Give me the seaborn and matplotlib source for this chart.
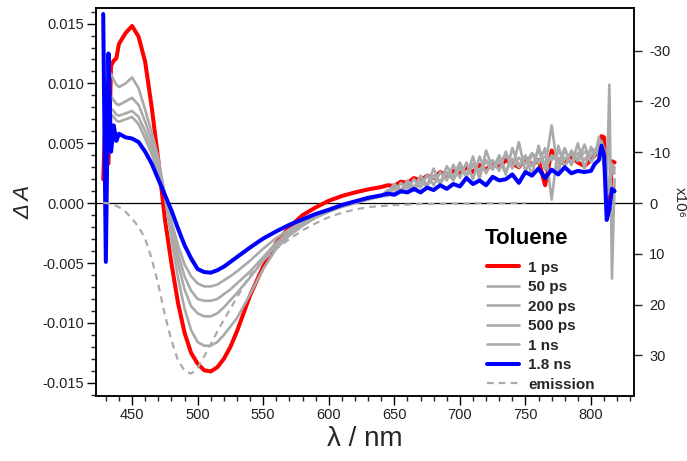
import numpy as np
import pandas as pd
import matplotlib
matplotlib.use("Agg")
import matplotlib.pyplot as plt
import seaborn as sns
from matplotlib.ticker import MultipleLocator, FixedLocator
from matplotlib.lines import Line2D

sns.set_style("ticks")
plt.rcParams['font.family'] = ['Liberation Sans', 'DejaVu Sans']
plt.rcParams['axes.unicode_minus'] = False

# wavelength grid (nm)
wavelength = [428, 430, 432, 434, 436, 438, 440,
              445, 450, 455, 460, 465, 470, 475, 480, 485, 490, 495, 500, 505, 510, 515, 520, 525, 530,
              540, 550, 560, 570, 580, 590, 600, 610, 620, 630, 640,
              645, 650, 655, 660, 665, 670, 675, 680, 685, 690, 695, 700, 705, 710, 715, 720,
              725, 730, 735, 740, 745, 750, 755, 760, 765, 770, 775, 780, 785, 790, 795, 800,
              803, 806, 808, 810, 812, 814, 816, 818]

# transient absorption, in units of 1e-3 (mOD)
ps1 = [2.0, 8.0, 3.3, 11.5, 11.9, 12.1, 13.3,
       14.2, 14.8, 13.9, 11.8, 8.0, 3.6, -1.3, -5.0, -8.3, -10.8, -12.5, -13.4, -13.95, -14.05, -13.7, -13.0, -12.0, -10.7,
       -7.7, -5.3, -3.3, -2.0, -1.0, -0.35, 0.2, 0.6, 0.9, 1.15, 1.35,
       1.5, 1.45, 1.8, 1.7, 2.1, 1.9, 2.3, 2.1, 2.6, 2.3, 2.7, 2.5, 3.0, 2.6, 3.2, 2.8,
       3.3, 3.0, 3.6, 3.3, 3.0, 3.8, 3.2, 3.6, 1.5, 4.4, 3.5, 3.3, 3.9, 3.4, 3.1, 3.6,
       4.0, 4.8, 5.6, 5.5, 1.0, -0.5, 3.5, 3.4]
ps50 = [14.0, 4.0, 10.9, 10.8, 10.3, 9.9, 9.7,
        10.0, 10.5, 9.6, 7.8, 5.9, 3.8, 0.6, -3.0, -6.2, -8.8, -10.6, -11.6, -11.9, -11.9, -11.6, -11.0, -10.3, -9.6,
        -7.6, -5.5, -3.8, -2.7, -1.9, -1.2, -0.7, -0.3, 0.0, 0.3, 0.6,
        0.9, 1.2, 1.0, 1.6, 1.3, 1.9, 1.5, 2.2, 1.8, 2.6, 2.1, 2.9, 2.4, 3.3, 2.7, 3.6,
        2.9, 3.4, 4.0, 3.1, 3.8, 3.3, 4.2, 3.5, 3.9, 3.6, 4.4, 3.7, 4.1, 3.5, 4.3, 3.9,
        4.5, 4.0, 5.0, 4.6, 0.5, 2.0, 3.2, 3.0]
ps200 = [12.0, 5.0, 9.2, 8.9, 8.6, 8.3, 8.2,
         8.5, 8.8, 8.2, 6.8, 5.2, 3.4, 0.8, -2.2, -5.0, -7.2, -8.6, -9.2, -9.45, -9.45, -9.2, -8.7, -8.1, -7.5,
         -6.2, -4.8, -3.5, -2.6, -1.8, -1.2, -0.7, -0.3, 0.05, 0.35, 0.6,
         0.6, 1.3, 0.9, 1.5, 1.0, 1.8, 1.4, 2.3, 1.6, 2.5, 1.9, 3.0, 2.2, 3.2, 2.4, 3.5,
         2.8, 4.0, 2.6, 3.7, 3.0, 3.9, 3.1, 4.5, 2.8, 4.0, 3.4, 4.6, 3.2, 4.2, 3.6, 4.4,
         4.2, 4.6, 5.2, 4.4, 1.5, 1.0, 3.0, 2.5]
ps500 = [11.0, 3.5, 8.2, 7.9, 7.7, 7.4, 7.3,
         7.5, 7.7, 7.2, 6.0, 4.6, 3.0, 0.8, -1.8, -4.2, -6.1, -7.3, -8.0, -8.15, -8.15, -8.0, -7.6, -7.2, -6.7,
         -5.7, -4.5, -3.3, -2.4, -1.7, -1.1, -0.65, -0.25, 0.05, 0.35, 0.6,
         1.1, 0.8, 1.7, 1.2, 2.0, 1.3, 2.4, 1.5, 2.6, 1.9, 3.2, 2.1, 3.4, 2.0, 3.9, 2.5,
         3.6, 2.7, 4.3, 2.9, 5.1, 2.6, 4.1, 3.3, 4.6, 0.3, 4.8, 3.0, 4.4, 3.6, 4.9, 3.4,
         4.0, 5.5, 4.8, 3.6, 2.0, 0.8, 3.3, 2.8]
ns1 = [10.5, 4.5, 7.6, 7.4, 7.2, 6.9, 6.8,
       7.0, 7.2, 6.6, 5.4, 4.1, 2.6, 0.7, -1.5, -3.5, -5.1, -6.1, -6.7, -6.95, -6.95, -6.8, -6.45, -6.1, -5.7,
       -4.8, -3.8, -2.9, -2.2, -1.55, -1.0, -0.6, -0.2, 0.1, 0.4, 0.65,
       0.9, 1.6, 1.1, 1.9, 1.3, 2.3, 1.5, 2.9, 1.6, 3.1, 2.2, 3.4, 2.3, 3.9, 2.0, 4.4,
       2.9, 3.8, 2.4, 4.6, 3.1, 4.0, 2.3, 4.8, 3.0, 6.5, 2.6, 4.5, 3.2, 5.0, 2.9, 4.7,
       4.2, 5.0, 4.3, 3.0, 1.0, 9.9, -6.3, 2.0]
ns18 = [15.8, -4.9, 12.5, 4.3, 6.5, 5.2, 5.8,
        5.5, 5.4, 5.1, 4.3, 3.3, 2.0, 0.7, -0.6, -2.1, -3.5, -4.6, -5.5, -5.75, -5.8, -5.6, -5.3, -4.9, -4.5,
        -3.7, -2.95, -2.35, -1.8, -1.35, -0.9, -0.55, -0.15, 0.15, 0.45, 0.65,
        0.8, 0.7, 1.0, 0.9, 1.2, 0.9, 1.3, 1.1, 1.5, 1.2, 1.6, 1.4, 2.1, 1.6, 1.9, 1.5,
        2.2, 1.9, 2.0, 2.4, 1.7, 2.6, 2.3, 2.9, 2.1, 2.8, 2.4, 3.0, 2.5, 2.7, 2.6, 2.7,
        3.3, 3.6, 4.8, 4.0, -1.4, -0.5, 1.2, 1.0]

# emission (right axis, x10^6, axis inverted)
em_wavelength = [428, 430, 432, 434, 436, 438, 440, 445, 450, 455, 460, 465, 470, 475, 480, 485, 490,
                 495, 500, 505, 510, 515, 520, 525, 530, 540, 550, 560, 570, 580, 590, 600, 610,
                 620, 630, 640, 650, 660, 670, 680, 690, 700, 710, 720, 730, 740, 750]
emission = [0.0, 0.0, 0.1, 0.2, 0.35, 0.6, 0.8, 1.7, 3.1, 4.7, 7.0, 11.0, 16.0, 22.0, 27.0, 31.0, 33.0,
            33.6, 32.5, 30.2, 27.8, 25.3, 23.0, 20.8, 18.6, 14.2, 11.3, 9.0, 7.1, 5.4, 4.0, 2.8, 1.9,
            1.3, 0.8, 0.6, 0.4, 0.3, 0.2, 0.2, 0.1, 0.1, 0.1, 0.05, 0.05, 0.0, 0.0]

labels = ["1 ps", "50 ps", "200 ps", "500 ps", "1 ns", "1.8 ns", "emission"]
legend_title = "Toluene"
RED, BLUE, GRAY = "#ff0000", "#0000ff", "#aaaaaa"

fig = plt.figure(figsize=(6.87, 4.61), dpi=100)
ax = fig.add_axes([96 / 687, 1 - 396 / 461, (634 - 96) / 687, (396 - 8) / 461])
ax2 = ax.twinx()

ax.axhline(0, color="black", lw=0.9, zorder=1)

wl = np.array(wavelength)
series = [(ps1, RED, 2.9, 2), (ps50, GRAY, 1.9, 3), (ps200, GRAY, 1.9, 3), (ps500, GRAY, 1.9, 3),
          (ns1, GRAY, 1.9, 3), (ns18, BLUE, 2.9, 4)]
for vals, col, lw, z in series:
    sns.lineplot(x=wl, y=np.array(vals) * 1e-3, ax=ax, color=col, linewidth=lw,
                 legend=False, zorder=z, estimator=None)

sns.lineplot(x=np.array(em_wavelength), y=np.array(emission), ax=ax2, color=GRAY,
             linewidth=1.6, dashes=False, legend=False, estimator=None)
ax2.get_lines()[-1].set_dashes((3.0, 2.3))

# axes ranges
ax.set_xlim(422.5, 832.8)
ax.set_ylim(-0.0161, 0.0163)
ax2.set_ylim(38.0, -38.4)

ax.xaxis.set_major_locator(FixedLocator([450, 500, 550, 600, 650, 700, 750, 800]))
ax.xaxis.set_minor_locator(MultipleLocator(10))
ax.yaxis.set_major_locator(FixedLocator([-0.015, -0.010, -0.005, 0.0, 0.005, 0.010, 0.015]))
ax.yaxis.set_minor_locator(MultipleLocator(0.001))
ax.set_yticklabels(["-0.015", "-0.010", "-0.005", "0.000", "0.005", "0.010", "0.015"])
ax2.yaxis.set_major_locator(FixedLocator([-30, -20, -10, 0, 10, 20, 30]))
ax2.set_yticklabels(["-30", "-20", "-10", "0", "10", "20", "30"])

for a in (ax, ax2):
    for s in a.spines.values():
        s.set_linewidth(1.1)
        s.set_color("black")
ax.tick_params(axis="both", which="major", direction="out", length=6.5, width=1.0,
               labelsize=10.5, pad=2, colors="black", labelcolor="#222222")
ax.tick_params(axis="both", which="minor", direction="out", length=3.5, width=1.0)
ax.tick_params(axis="y", right=False)
ax.tick_params(axis="x", top=False, which="both")
ax2.tick_params(axis="y", which="major", direction="out", length=6, width=1.0,
                labelsize=10.5, pad=5, labelcolor="#222222")
ax2.tick_params(axis="y", which="minor", right=False)

ax.set_xlabel("λ / nm", fontsize=20, labelpad=3)
ax.set_ylabel("Δ A", fontsize=16, style="italic", labelpad=6)
ax2.set_ylabel("x10⁶", fontsize=11, rotation=270, labelpad=12)

handles = [Line2D([], [], color=RED, lw=2.9),
           Line2D([], [], color=GRAY, lw=1.9),
           Line2D([], [], color=GRAY, lw=1.9),
           Line2D([], [], color=GRAY, lw=1.9),
           Line2D([], [], color=GRAY, lw=1.9),
           Line2D([], [], color=BLUE, lw=2.9),
           Line2D([], [], color=GRAY, lw=1.6, dashes=(3.0, 2.3))]
leg = ax2.legend(handles, labels, loc="upper left",
                 bbox_to_anchor=(479 / 687, 1 - 253 / 461), bbox_transform=fig.transFigure,
                 frameon=False, prop={"weight": "bold", "size": 11},
                 handlelength=2.1, handletextpad=0.6, labelspacing=0.36, borderpad=0)
fig.text(485 / 687, 1 - 238 / 461, legend_title, ha="left", va="center",
         fontsize=16, fontweight="bold", color="black")

fig.savefig("out.png", dpi=100)
